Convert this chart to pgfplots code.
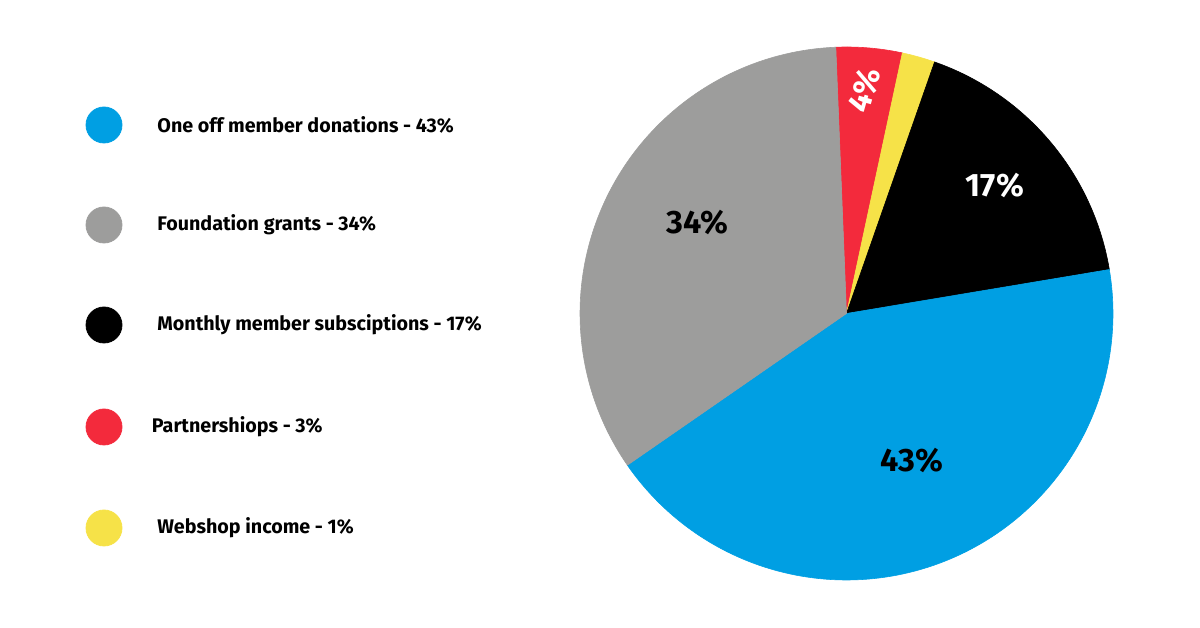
\documentclass[border=0pt]{standalone}
\usepackage{pgfplots}
\pgfplotsset{compat=1.18}
\usepackage{pgfplotstable}
\usepackage{fontspec}
\setmainfont{Fira Sans}
\definecolor{pblue}{RGB}{0,159,227}
\definecolor{pgray}{RGB}{157,157,156}
\definecolor{pblack}{RGB}{0,0,0}
\definecolor{pred}{RGB}{243,42,60}
\definecolor{pyellow}{RGB}{246,226,72}
% slice values (percent), clockwise from the top
\def\vRed{4}
\def\vYellow{2}
\def\vBlack{17}
\def\vBlue{43}
\def\vGray{34}
\def\cx{846.5}
\def\cy{314.5}
\def\rr{266.5}
\pgfmathsetmacro{\aA}{92.3}
\pgfmathsetmacro{\aB}{\aA-3.6*\vRed}
\pgfmathsetmacro{\aC}{\aB-3.6*\vYellow}
\pgfmathsetmacro{\aD}{\aC-3.6*\vBlack}
\pgfmathsetmacro{\aE}{\aD-3.6*\vBlue}
\pgfmathsetmacro{\aF}{\aE-3.6*\vGray}
\newcommand{\legfont}{\fontsize{9.85bp}{11bp}\selectfont\bfseries}
\newcommand{\piefont}{\fontsize{16.2bp}{18bp}\selectfont\bfseries}
\begin{document}
\begin{tikzpicture}
\useasboundingbox (0,0) rectangle (600bp,314bp);
\begin{axis}[
  at={(0,0)}, anchor=south west,
  width=600bp, height=314bp, scale only axis,
  xmin=0, xmax=1200, ymin=0, ymax=628,
  hide axis, clip=false,
]
\addplot[fill=pred, draw=pred, line width=0.3pt, domain=\aB:\aA, samples=30, variable=\t]
  ({\cx+\rr*cos(t)},{\cy+\rr*sin(t)}) -- (\cx,\cy) -- cycle;
\addplot[fill=pyellow, draw=pyellow, line width=0.3pt, domain=\aC:\aB, samples=20, variable=\t]
  ({\cx+\rr*cos(t)},{\cy+\rr*sin(t)}) -- (\cx,\cy) -- cycle;
\addplot[fill=pblack, draw=pblack, line width=0.3pt, domain=\aD:\aC, samples=60, variable=\t]
  ({\cx+\rr*cos(t)},{\cy+\rr*sin(t)}) -- (\cx,\cy) -- cycle;
\addplot[fill=pblue, draw=pblue, line width=0.3pt, domain=\aE:\aD, samples=120, variable=\t]
  ({\cx+\rr*cos(t)},{\cy+\rr*sin(t)}) -- (\cx,\cy) -- cycle;
\addplot[fill=pgray, draw=pgray, line width=0.3pt, domain=\aF:\aE, samples=100, variable=\t]
  ({\cx+\rr*cos(t)},{\cy+\rr*sin(t)}) -- (\cx,\cy) -- cycle;

% slice labels
\node[font=\piefont, text=black] at (697.5,406) {34\%};
\node[font=\piefont, text=white] at (995,443) {17\%};
\node[font=\piefont, text=black] at (912,168) {43\%};
\node[font=\piefont, text=white, rotate=74, inner sep=0pt] at (864,538) {4\%};

% legend markers
\addplot[only marks, mark=*, mark size=9bp, mark options={fill=pblue, draw=pblue}] coordinates {(104,503)};
\addplot[only marks, mark=*, mark size=9bp, mark options={fill=pgray, draw=pgray}] coordinates {(104,403)};
\addplot[only marks, mark=*, mark size=9bp, mark options={fill=pblack, draw=pblack}] coordinates {(104,303)};
\addplot[only marks, mark=*, mark size=9bp, mark options={fill=pred, draw=pred}] coordinates {(104,201)};
\addplot[only marks, mark=*, mark size=9bp, mark options={fill=pyellow, draw=pyellow}] coordinates {(104,100)};

\node[font=\legfont, anchor=west, inner sep=0pt] at (157,503) {One off member donations - 43\%};
\node[font=\legfont, anchor=west, inner sep=0pt] at (157,403) {Foundation grants - 34\%};
\node[font=\legfont, anchor=west, inner sep=0pt] at (157,303) {Monthly member subsciptions - 17\%};
\node[font=\legfont, anchor=west, inner sep=0pt] at (151.5,201) {Partnershiops - 3\%};
\node[font=\legfont, anchor=west, inner sep=0pt] at (157,100) {Webshop income - 1\%};
\end{axis}
\end{tikzpicture}
\end{document}
